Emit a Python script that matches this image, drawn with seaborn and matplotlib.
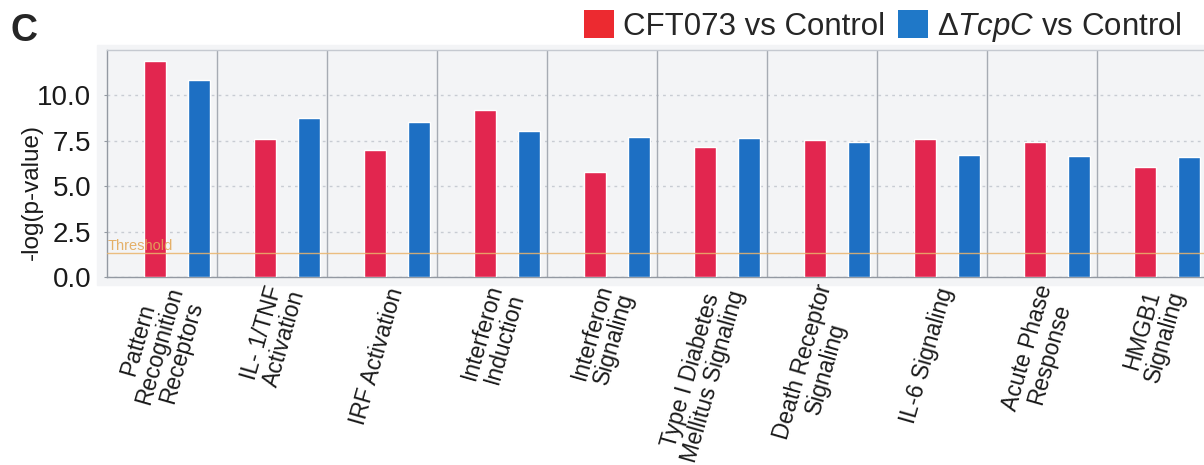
import matplotlib
matplotlib.use('Agg')
import numpy as np
import pandas as pd
import matplotlib.pyplot as plt
import seaborn as sns
from matplotlib.patches import Patch, Rectangle

# data
pathways = ['Pattern\nRecognition\nReceptors', 'IL- 1/TNF\nActivation', 'IRF Activation',
            'Interferon\nInduction', 'Interferon\nSignaling', 'Type I Diabetes\nMellitus Signaling',
            'Death Receptor\nSignaling', 'IL-6 Signaling', 'Acute Phase\nResponse', 'HMGB1\nSignaling']
cft073 = [11.90, 7.58, 6.99, 9.19, 5.77, 7.17, 7.54, 7.58, 7.45, 6.07]
tcpc = [10.83, 8.74, 8.52, 8.05, 7.72, 7.67, 7.45, 6.71, 6.66, 6.59]
series = ['CFT073 vs Control', r'$\Delta\mathit{TcpC}$ vs Control']
threshold = 1.3
y_ticks = [0.0, 2.5, 5.0, 7.5, 10.0]

df = pd.DataFrame({
    'pathway': pathways * 2,
    'value': cft073 + tcpc,
    'group': [series[0]] * len(pathways) + [series[1]] * len(pathways),
})

sns.set_style('white')
plt.rcParams['font.family'] = ['Liberation Sans', 'DejaVu Sans']
plt.rcParams['mathtext.fontset'] = 'custom'
plt.rcParams['mathtext.rm'] = 'Liberation Sans'
plt.rcParams['mathtext.it'] = 'Liberation Sans:italic'
plt.rcParams['axes.unicode_minus'] = False

bar_colors = ['#e2264f', '#1d6fc3']
legend_colors = ['#ec2a30', '#1f78c8']
bg = '#f3f4f6'
axis_grey = '#9399a2'

W, H = 1204, 465
fig = plt.figure(figsize=(W / 100, H / 100), dpi=100)
bg_rect = Rectangle((97 / W, 1 - 285 / H), 1, (285 - 45) / H,
                    transform=fig.transFigure, color=bg, zorder=-10)
fig.patches.append(bg_rect)
ax = fig.add_axes([107 / W, 1 - 277 / H, 1 - 107 / W, (277 - 50) / H])
ax.set_facecolor(bg)

sns.barplot(data=df, x='pathway', y='value', hue='group', palette=bar_colors,
            width=0.8, gap=0.5, saturation=1, legend=False, ax=ax, zorder=3)

n = len(pathways)
left = -0.632
ax.set_xlim(left, left + (W - 107) / 110)
ax.set_ylim(0, 12.5)

# group dividers
for k in range(n - 1):
    ax.axvline(k + 1 + left, color='#a6abb3', lw=1, zorder=1)

ax.set_yticks(y_ticks)
ax.set_yticklabels(['%.1f' % t for t in y_ticks], fontsize=20, color='#1a1a1a')
ax.yaxis.grid(True, linestyle=(0, (2, 3)), color='#c8ccd3', lw=1)
ax.set_axisbelow(True)

ax.axhline(threshold, color='#eab46c', lw=1, alpha=0.85, zorder=4)
ax.text(left + 0.01, threshold + 0.17, 'Threshold', color='#e3a95a', fontsize=10.5,
        va='baseline', ha='left', alpha=0.9, zorder=4)

ax.set_xticks(range(n))
ax.set_xticklabels(pathways, rotation=74, ha='right', va='center', rotation_mode='anchor',
                   multialignment='center', fontsize=16.5, linespacing=1.0, color='#1a1a1a')
ax.tick_params(axis='x', length=0, pad=8)
ax.tick_params(axis='y', length=2, color=axis_grey, pad=9.5, left=True)

ax.set_xlabel('')
ax.set_ylabel('-log(p-value)', fontsize=17.5, color='#1a1a1a')
ax.yaxis.set_label_coords(-0.058, 0.375)

ax.spines['left'].set_color(axis_grey)
ax.spines['bottom'].set_color(axis_grey)
ax.spines['top'].set_color('#c5c9d0')
ax.spines['right'].set_visible(False)
for s in ['left', 'bottom', 'top']:
    ax.spines[s].set_linewidth(1)

handles = [Patch(facecolor=c, edgecolor='none') for c in legend_colors]
fig.legend(handles, series, loc='center right', bbox_to_anchor=(1182 / W, 1 - 27 / H),
           ncol=2, frameon=False, fontsize=22.5, handlelength=0.95, handleheight=1.0,
           handletextpad=0.3, columnspacing=0.4, borderaxespad=0, borderpad=0)

fig.text(10 / W, 1 - 31 / H, 'C', fontsize=27, fontweight='bold', va='center', ha='left')

fig.savefig('out.png', dpi=100)
